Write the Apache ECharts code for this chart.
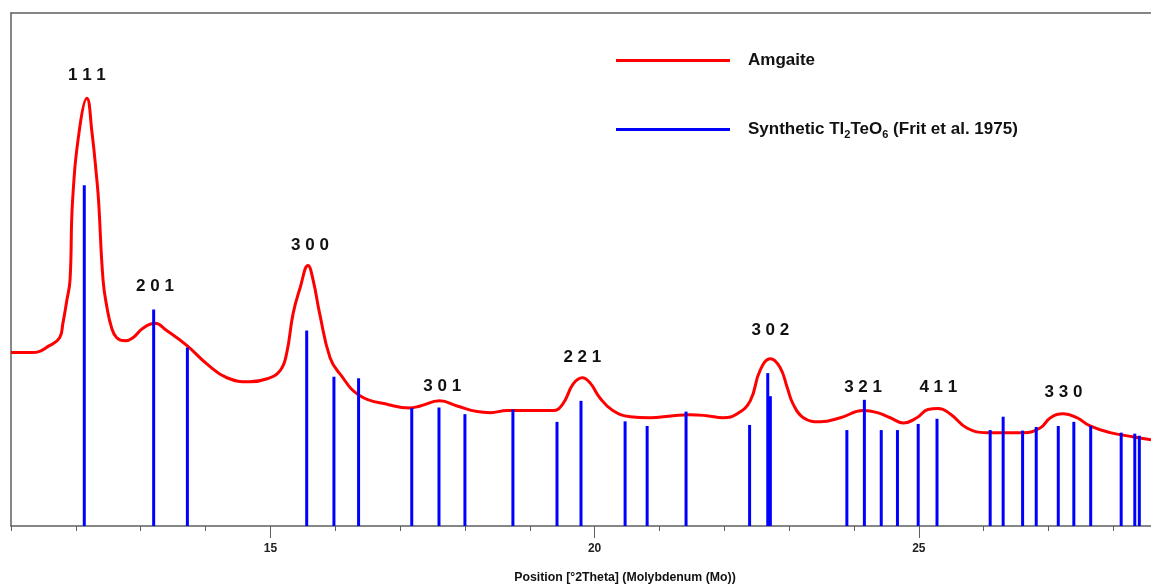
<!DOCTYPE html>
<html>
<head>
<meta charset="utf-8">
<script src="https://cdn.jsdelivr.net/npm/echarts@6/dist/echarts.min.js"></script>
<style>
html,body{margin:0;padding:0;background:#fff;overflow:hidden;}
#chart{width:1151px;height:585px;}
</style>
</head>
<body>
<div id="chart"></div>
<script>
// Amgaite powder pattern (2theta, relative intensity 0-100)
var amgaiteX = [11.00,11.34,11.60,11.75,11.80,11.86,11.91,11.95,12.06,12.17,12.25,12.32,12.35,12.42,12.48,12.55,12.63,12.76,12.88,13.03,13.22,13.40,13.71,14.02,14.33,14.68,14.95,15.15,15.25,15.35,15.46,15.58,15.66,15.76,15.92,16.07,16.38,16.84,17.15,17.31,17.61,17.88,18.19,18.39,18.65,19.00,19.36,19.51,19.67,19.81,19.93,20.08,20.28,20.55,20.85,21.21,21.47,21.73,21.98,22.20,22.40,22.55,22.71,22.86,22.97,23.06,23.22,23.48,23.79,24.14,24.36,24.56,24.76,24.97,25.14,25.30,25.48,25.74,26.05,26.36,26.61,26.87,27.03,27.23,27.44,27.64,27.95,28.30,28.58];
var amgaiteY = [33.8,33.8,35.2,36.7,39.5,43.9,47.9,63.5,77.7,83.4,76.6,68.0,63.5,47.9,42.6,38.7,36.7,36.1,36.7,38.5,39.5,38.1,35.2,31.6,28.9,28.1,28.7,30.3,33.6,41.4,46.5,50.8,47.9,41.4,32.8,29.7,25.4,23.6,23.0,23.4,24.4,23.4,22.3,22.1,22.5,22.5,22.5,23.8,27.7,28.9,27.9,25.0,22.5,21.3,21.1,21.5,21.7,21.5,21.1,21.9,24.4,30.3,32.6,30.9,27.0,23.8,21.1,20.3,21.1,22.5,22.1,21.1,20.1,21.1,22.7,22.9,21.9,19.1,18.2,18.2,18.2,19.1,21.1,21.9,21.1,19.5,18.2,17.4,16.8];

// Synthetic Tl2TeO6 reference sticks
var stickX = [12.13,13.20,13.72,15.56,15.98,16.36,17.18,17.60,18.00,18.74,19.42,19.79,20.47,20.81,21.41,22.39,22.67,22.71,23.89,24.16,24.42,24.67,24.99,25.28,26.10,26.30,26.60,26.81,27.15,27.39,27.65,28.12,28.33,28.40];
var stickY = [66.4,42.2,34.8,38.1,29.1,28.8,23.0,23.1,21.8,22.7,20.3,24.4,20.4,19.5,22.3,19.7,29.8,25.3,18.7,24.6,18.7,18.7,19.9,20.9,18.7,21.3,18.6,19.3,19.5,20.3,19.5,18.2,18.0,17.6];

// hkl annotations (anchor in data coordinates)
var hklText = ['1 1 1','2 0 1','3 0 0','3 0 1','2 2 1','3 0 2','3 2 1','4 1 1','3 3 0'];
var hklX = [12.17,13.22,15.61,17.65,19.81,22.71,24.14,25.30,27.23];
var hklY = [87.9,46.7,54.7,27.3,32.8,38.1,27.1,27.1,26.0];

var xMajorTicks = [15,20,25];
var xMin = 11, xMax = 28.58;

var seriesNames = ['Amgaite','Synthetic'];

var lineData = amgaiteX.map(function(x,i){return [x, amgaiteY[i]];});
var stickData = stickX.map(function(x,i){return [x, stickY[i]];});
var hklData = hklText.map(function(t,i){return {name:t, value:[hklX[i], hklY[i]]};});

var axisColor = '#5f5f5f';
var fontFam = '"Liberation Sans", Arial, sans-serif';

var chart = echarts.init(document.getElementById('chart'), null, {renderer:'canvas'});
chart.setOption({
  animation:false,
  backgroundColor:'#fff',
  grid:{left:11, right:0, top:13, bottom:59, containLabel:false, outerBoundsMode:'none'},
  legend:{
    data:[{name:seriesNames[0]},{name:seriesNames[1]}],
    orient:'vertical', left:616, top:52, itemGap:52, padding:0,
    itemWidth:114, itemHeight:3, icon:'rect',
    formatter:function(n){
      if(n===seriesNames[0]) return '{a|Amgaite}';
      return '{a|Synthetic Tl}{s|2}{a|TeO}{s|6}{a| (Frit et al. 1975)}';
    },
    textStyle:{
      padding:[0,0,0,13],
      rich:{
        a:{fontFamily:fontFam, fontWeight:'bold', fontSize:17, color:'#111', lineHeight:22},
        s:{fontFamily:fontFam, fontWeight:'bold', fontSize:11, color:'#111', lineHeight:11, verticalAlign:'bottom'}
      }
    }
  },
  xAxis:[{
    type:'value', min:xMin, max:xMax, interval:1, position:'bottom',
    axisLine:{show:true, lineStyle:{color:axisColor, width:1.5}},
    axisTick:{show:true, length:5, lineStyle:{color:axisColor, width:1}},
    axisLabel:{show:true, margin:17, fontFamily:fontFam, fontWeight:'bold', fontSize:12, color:'#222',
      showMaxLabel:false,
      formatter:function(v){return xMajorTicks.indexOf(v)>=0 ? String(v) : '';}},
    splitLine:{show:false},
    name:'Position [°2Theta] (Molybdenum (Mo))',
    nameLocation:'middle', nameGap:46,
    nameTextStyle:{fontFamily:fontFam, fontWeight:'bold', fontSize:12.3, color:'#111', padding:[0,0,0,88]}
  },{
    type:'value', min:xMin, max:xMax, position:'bottom', gridIndex:0,
    axisLine:{show:false},
    axisTick:{show:true, length:12, customValues:xMajorTicks, lineStyle:{color:axisColor, width:1}},
    axisLabel:{show:false},
    splitLine:{show:false}
  },{
    type:'value', min:xMin, max:xMax, position:'top', gridIndex:0,
    axisLine:{show:true, lineStyle:{color:axisColor, width:1.5}},
    axisTick:{show:false}, axisLabel:{show:false}, splitLine:{show:false}
  }],
  yAxis:{
    type:'value', min:0, max:100,
    axisLine:{show:true, lineStyle:{color:axisColor, width:1.5}},
    axisTick:{show:false}, axisLabel:{show:false}, splitLine:{show:false}
  },
  series:[{
    name:seriesNames[0], type:'line', data:lineData, xAxisIndex:0,
    smooth:0.45, symbol:'none',
    lineStyle:{color:'#ff0000', width:3}, itemStyle:{color:'#ff0000'}, z:2
  },{
    name:seriesNames[1], type:'bar', data:stickData, xAxisIndex:0,
    barWidth:3, itemStyle:{color:'#0000ff'}, z:3
  },{
    name:'hkl', type:'scatter', data:hklData, xAxisIndex:0,
    symbol:'circle', symbolSize:1, itemStyle:{color:'rgba(0,0,0,0)', opacity:1},
    label:{show:true, position:'inside', formatter:'{b}', fontFamily:fontFam, fontWeight:'bold', fontSize:17, color:'#111', textBorderWidth:0},
    z:4, silent:true
  }]
});
</script>
</body>
</html>
